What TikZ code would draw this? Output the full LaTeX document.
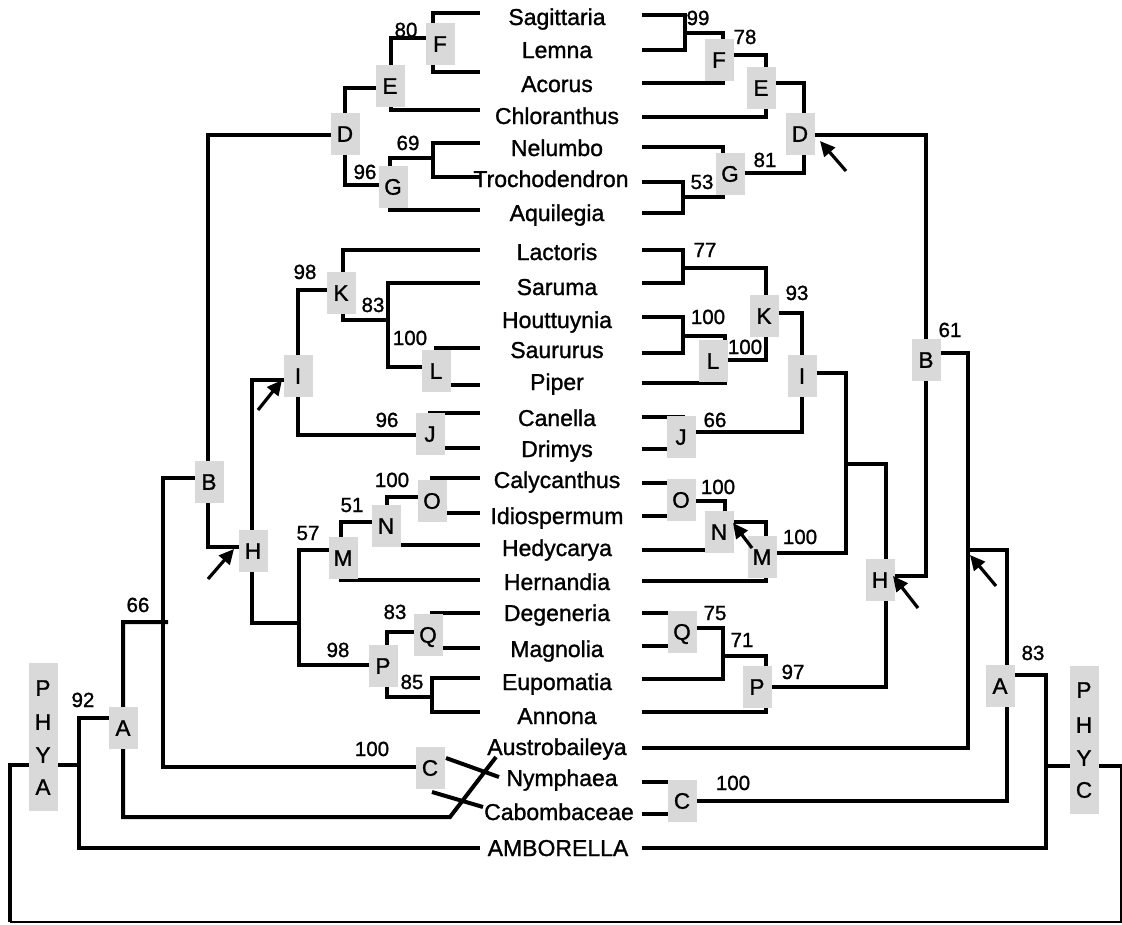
\documentclass[tikz,border=0pt]{standalone}
\usepackage{fontspec}
\setmainfont{Liberation Sans}[FakeBold=1.2]
\usetikzlibrary{arrows.meta}
\definecolor{boxgray}{RGB}{217,217,217}
\tikzset{
  branch/.style={line width=4pt, line join=miter},
  thinframe/.style={line width=2.2pt},
  lbox/.style={fill=boxgray, draw=none, minimum width=29pt, minimum height=42pt, inner sep=0pt,
    text height=15.5pt, text depth=0pt, font=\fontsize{22.5}{22}\selectfont},
  tallbox/.style={fill=boxgray, draw=none, minimum width=29pt, minimum height=148pt, inner sep=0pt},
  vlet/.style={inner sep=0pt, text height=15.5pt, text depth=0pt, font=\fontsize{22.5}{22}\selectfont},
  bs/.style={inner sep=0pt, anchor=base, font=\fontsize{20.5}{20}\selectfont},
  taxon/.style={inner sep=0pt, anchor=base, font=\fontsize{23}{24}\selectfont},
  ptr/.style={line width=3.2pt, -{Triangle[length=15pt,width=14pt]}}
}
\begin{document}
\begin{tikzpicture}[x=1pt,y=-1pt]
\useasboundingbox (0,0) rectangle (1122,924);

% ---------------- left tree (PHYA) ----------------
\draw[branch] (480,13) -- (433,13) -- (433,72) -- (480,72);
\draw[branch] (433,38) -- (391,38) -- (391,110) -- (480,110);
\draw[branch] (391,88) -- (345,88) -- (345,185) -- (393,185);
\draw[branch] (345,135) -- (208,135) -- (208,547) -- (253,547);
\draw[branch] (433,158) -- (390,158) -- (390,210) -- (480,210);
\draw[branch] (480,143) -- (433,143) -- (433,177) -- (480,177);
\draw[branch] (480,250) -- (343,250) -- (343,320) -- (388,320);
\draw[branch] (480,283) -- (388,283) -- (388,367) -- (436,367);
\draw[branch] (480,348) -- (436,348) -- (436,385) -- (480,385);
\draw[branch] (341,290) -- (298,290) -- (298,435) -- (430,435);
\draw[branch] (480,413) -- (430,413) -- (430,448) -- (480,448);
\draw[branch] (298,380) -- (252,380) -- (252,623) -- (299,623);
\draw[branch] (341,550) -- (299,550) -- (299,665) -- (383,665);
\draw[branch] (386,522) -- (341,522) -- (341,580) -- (480,580);
\draw[branch] (432,497) -- (387,497) -- (387,545) -- (480,545);
\draw[branch] (480,478) -- (432,478) -- (432,513) -- (480,513);
\draw[branch] (428,632) -- (387,632) -- (387,697) -- (432,697);
\draw[branch] (480,613) -- (432,613) -- (432,648) -- (480,648);
\draw[branch] (480,678) -- (432,678) -- (432,712) -- (480,712);
\draw[branch] (208,478) -- (163,478) -- (163,767) -- (430,767);
\draw[branch] (168,622) -- (123,622) -- (123,817) -- (450,817) -- (496,757);
\draw[branch] (123,718) -- (79,718) -- (79,848) -- (480,848);
\draw[branch] (446,758) -- (499,777);
\draw[branch] (432,792) -- (483,807);
\draw[branch] (79,765) -- (10,765) -- (10,922);
\draw[thinframe] (10,922) -- (1121,922) -- (1121,766);
\draw[branch] (1122,766) -- (1046,766);

% ---------------- right tree (PHYC) ----------------
\draw[branch] (642,15) -- (685,15) -- (685,50) -- (642,50);
\draw[branch] (685,33) -- (723,33) -- (723,83) -- (642,83);
\draw[branch] (719,55) -- (766,55) -- (766,117) -- (642,117);
\draw[branch] (761,83) -- (804,83) -- (804,173) -- (730,173);
\draw[branch] (800,135) -- (926,135) -- (926,576) -- (880,576);
\draw[branch] (642,147) -- (723,147) -- (723,197) -- (683,197);
\draw[branch] (642,182) -- (683,182) -- (683,213) -- (642,213);
\draw[branch] (642,250) -- (683,250) -- (683,283) -- (642,283);
\draw[branch] (683,268) -- (766,268) -- (766,360) -- (713,360);
\draw[branch] (764,313) -- (802,313) -- (802,432) -- (681,432);
\draw[branch] (642,317) -- (683,317) -- (683,353) -- (642,353);
\draw[branch] (683,336) -- (725,336) -- (725,383) -- (642,383);
\draw[branch] (642,417) -- (683,417) -- (683,449) -- (642,449);
\draw[branch] (802,373) -- (846,373) -- (846,553) -- (762,553);
\draw[branch] (846,464) -- (886,464) -- (886,687) -- (757,687);
\draw[branch] (642,483) -- (681,483) -- (681,516) -- (642,516);
\draw[branch] (681,501) -- (725,501) -- (725,550) -- (642,550);
\draw[branch] (719,522) -- (766,522) -- (766,581) -- (642,581);
\draw[branch] (642,613) -- (682,613) -- (682,646) -- (642,646);
\draw[branch] (682,628) -- (723,628) -- (723,679) -- (642,679);
\draw[branch] (723,656) -- (766,656) -- (766,712) -- (642,712);
\draw[branch] (926,353) -- (968,353) -- (968,748) -- (642,748);
\draw[branch] (968,550) -- (1007,550) -- (1007,801) -- (682,801);
\draw[branch] (642,782) -- (682,782) -- (682,814) -- (642,814);
\draw[branch] (1000,675) -- (1046,675) -- (1046,848) -- (642,848);

% ---------------- clade boxes ----------------
\node[lbox] (lF) at (440,44) {F};
\node[lbox] (lE) at (390,86) {E};
\node[lbox] (lD) at (345,134) {D};
\node[lbox] (lG) at (393,187) {G};
\node[lbox] (lK) at (341,293) {K};
\node[lbox] (lL) at (436,371) {L};
\node[lbox] (lI) at (298,376) {I};
\node[lbox] (lJ) at (430,434) {J};
\node[lbox] (lH) at (253,551) {H};
\node[lbox] (lB) at (209,482) {B};
\node[lbox] (lM) at (343,558) {M};
\node[lbox] (lN) at (386,526) {N};
\node[lbox] (lO) at (432,501) {O};
\node[lbox] (lP) at (383,666) {P};
\node[lbox] (lQ) at (428,635) {Q};
\node[lbox] (lC) at (430,768) {C};
\node[lbox] (lA) at (123,728) {A};

\node[lbox] (rF) at (719,60) {F};
\node[lbox] (rE) at (761,88) {E};
\node[lbox] (rD) at (800,134) {D};
\node[lbox] (rG) at (730,174) {G};
\node[lbox] (rK) at (764,316) {K};
\node[lbox] (rL) at (713,361) {L};
\node[lbox] (rI) at (802,376) {I};
\node[lbox] (rJ) at (681,437) {J};
\node[lbox] (rO) at (681,500) {O};
\node[lbox] (rN) at (719,532) {N};
\node[lbox] (rM) at (762,557) {M};
\node[lbox] (rQ) at (682,632) {Q};
\node[lbox] (rP) at (757,687) {P};
\node[lbox] (rH) at (880,580) {H};
\node[lbox] (rB) at (926,360) {B};
\node[lbox] (rA) at (1000,686) {A};
\node[lbox] (rC) at (682,801) {C};

\node[tallbox] (phya) at (43,737) {};
\node[vlet] (phya1) at (43,688) {P};
\node[vlet] (phya2) at (43,722) {H};
\node[vlet] (phya3) at (43,755) {Y};
\node[vlet] (phya4) at (43,787) {A};
\node[tallbox] (phyc) at (1084,740) {};
\node[vlet] (phyc1) at (1084,690) {P};
\node[vlet] (phyc2) at (1084,725) {H};
\node[vlet] (phyc3) at (1084,758) {Y};
\node[vlet] (phyc4) at (1084,790) {C};

% ---------------- arrows ----------------
\coordinate (a1t) at (258,410); \coordinate (a1h) at (282,380);
\coordinate (a2t) at (208,579); \coordinate (a2h) at (234,549);
\coordinate (a3t) at (846,171); \coordinate (a3h) at (820,141);
\coordinate (a4t) at (752,548); \coordinate (a4h) at (733,523);
\coordinate (a5t) at (918,608); \coordinate (a5h) at (893,576);
\coordinate (a6t) at (996,586); \coordinate (a6h) at (970,555);
\draw[ptr] (a1t) -- (a1h);
\draw[ptr] (a2t) -- (a2h);
\draw[ptr] (a3t) -- (a3h);
\draw[ptr] (a4t) -- (a4h);
\draw[ptr] (a5t) -- (a5h);
\draw[ptr] (a6t) -- (a6h);

% ---------------- support values ----------------
\node[bs] (s1) at (406,37) {80};
\node[bs] (s2) at (365,179) {96};
\node[bs] (s3) at (408,150) {69};
\node[bs] (s4) at (305,279) {98};
\node[bs] (s5) at (373,312) {83};
\node[bs] (s6) at (410,345) {100};
\node[bs] (s7) at (387,427) {96};
\node[bs] (s8) at (392,487) {100};
\node[bs] (s9) at (352,512) {51};
\node[bs] (s10) at (308,540) {57};
\node[bs] (s11) at (395,619) {83};
\node[bs] (s12) at (338,657) {98};
\node[bs] (s13) at (412,689) {85};
\node[bs] (s14) at (138,612) {66};
\node[bs] (s15) at (83,707) {92};
\node[bs] (s16) at (372,756) {100};

\node[bs] (t1) at (698,25) {99};
\node[bs] (t2) at (745,44) {78};
\node[bs] (t3) at (765,167) {81};
\node[bs] (t4) at (702,189) {53};
\node[bs] (t5) at (705,257) {77};
\node[bs] (t6) at (797,300) {93};
\node[bs] (t7) at (708,324) {100};
\node[bs] (t8) at (745,354) {100};
\node[bs] (t9) at (715,427) {66};
\node[bs] (t10) at (718,494) {100};
\node[bs] (t11) at (800,544) {100};
\node[bs] (t12) at (715,620) {75};
\node[bs] (t13) at (742,647) {71};
\node[bs] (t14) at (793,679) {97};
\node[bs] (t15) at (950,337) {61};
\node[bs] (t16) at (1033,660) {83};
\node[bs] (t17) at (733,790) {100};

% ---------------- taxa ----------------
\node[taxon] (x1) at (557,25) {Sagittaria};
\node[taxon] (x2) at (557,58) {Lemna};
\node[taxon] (x3) at (557,92) {Acorus};
\node[taxon] (x4) at (557,124) {Chloranthus};
\node[taxon] (x5) at (557,156) {Nelumbo};
\node[taxon] (x6) at (551,187) {Trochodendron};
\node[taxon] (x7) at (557,221) {Aquilegia};
\node[taxon] (x8) at (557,260) {Lactoris};
\node[taxon] (x9) at (557,295) {Saruma};
\node[taxon] (x10) at (557,328) {Houttuynia};
\node[taxon] (x11) at (557,358) {Saururus};
\node[taxon] (x12) at (557,390) {Piper};
\node[taxon] (x13) at (557,426) {Canella};
\node[taxon] (x14) at (557,457) {Drimys};
\node[taxon] (x15) at (557,488) {Calycanthus};
\node[taxon] (x16) at (557,524) {Idiospermum};
\node[taxon] (x17) at (557,556) {Hedycarya};
\node[taxon] (x18) at (557,590) {Hernandia};
\node[taxon] (x19) at (557,621) {Degeneria};
\node[taxon] (x20) at (557,657) {Magnolia};
\node[taxon] (x21) at (557,690) {Eupomatia};
\node[taxon] (x22) at (557,724) {Annona};
\node[taxon] (x23) at (557,755) {Austrobaileya};
\node[taxon] (x24) at (562,786) {Nymphaea};
\node[taxon] (x25) at (559,820) {Cabombaceae};
\node[taxon] (x26) at (558,856) {AMBORELLA};
\end{tikzpicture}
\end{document}
